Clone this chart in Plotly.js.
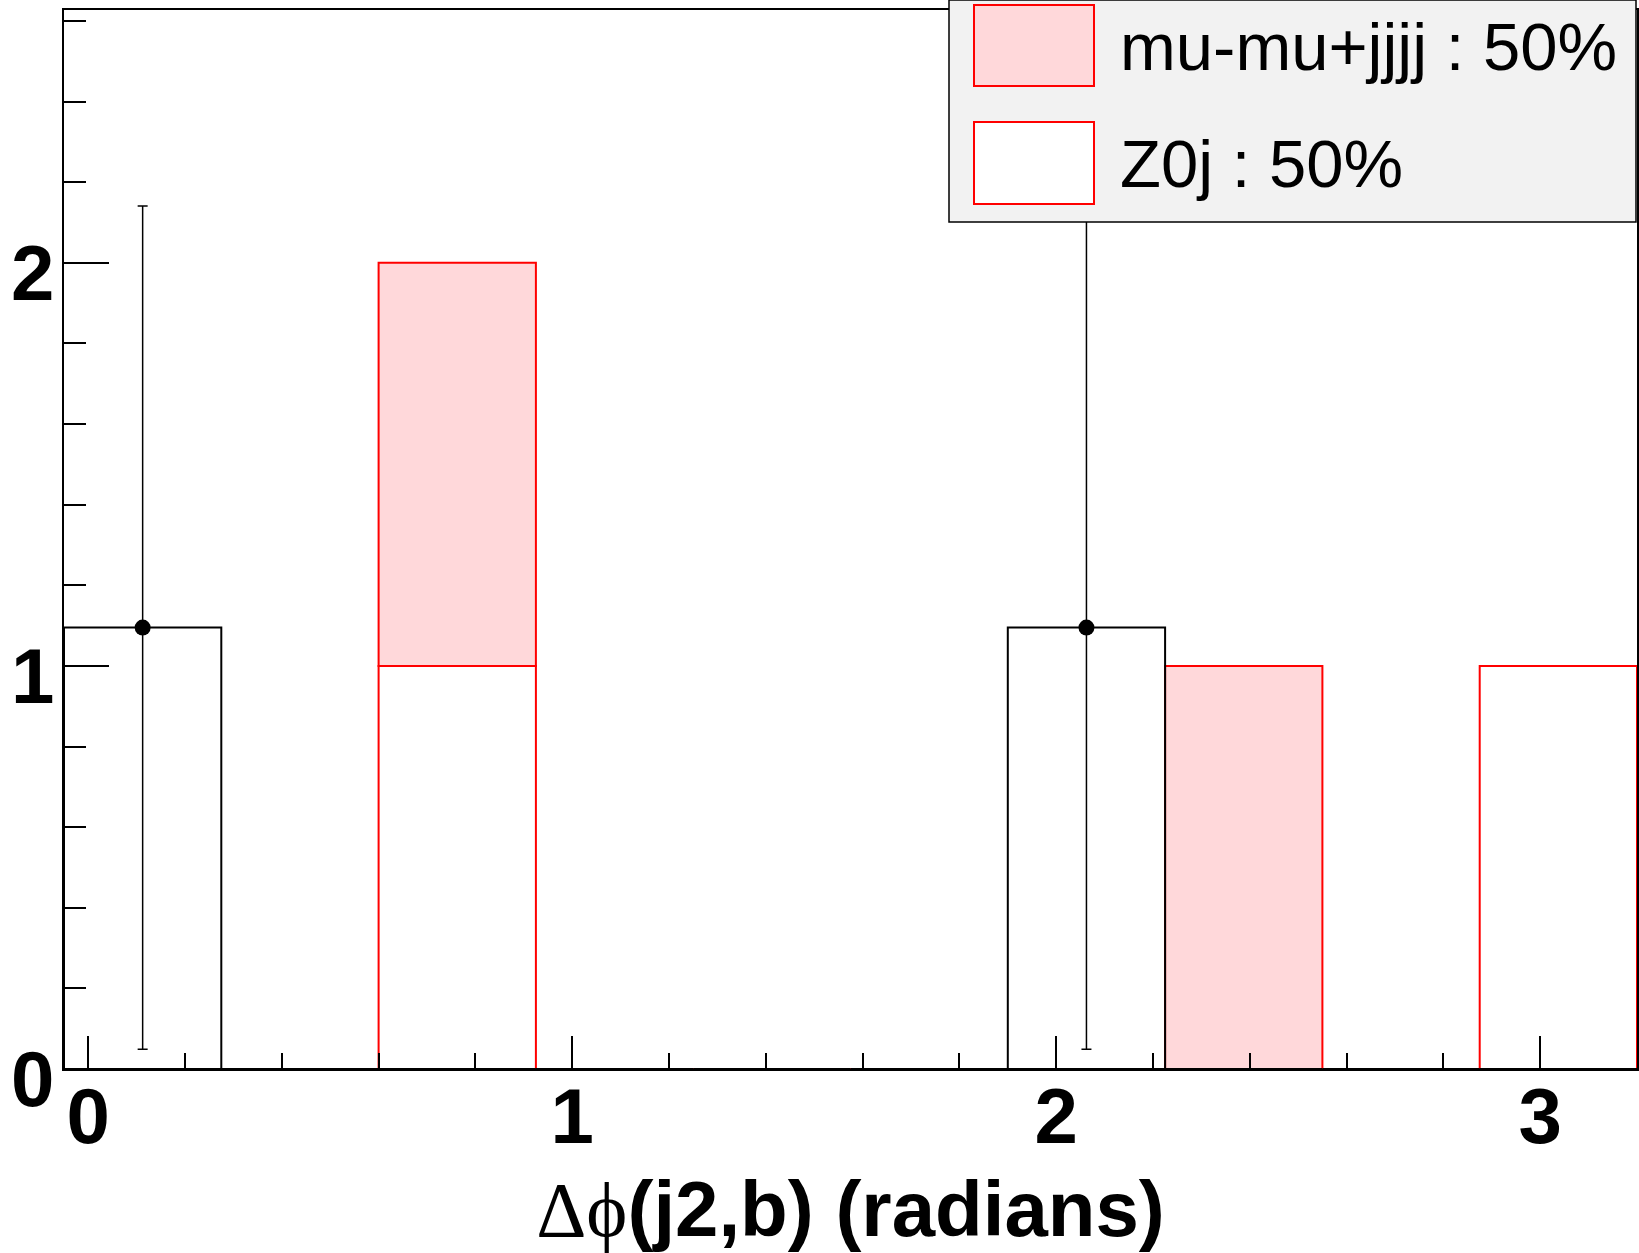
<!DOCTYPE html>
<html><head><meta charset="utf-8">
<script src="https://cdn.plot.ly/plotly-3.0.1.min.js"></script>
<style>body{margin:0;background:#fff}</style>
</head><body><div id="chart" style="width:1639px;height:1253px"></div>
<script>
// ---- data ----
const binCenters = [0.1125, 0.4375, 0.7625, 1.0875, 1.4125, 1.7375, 2.0625, 2.3875, 2.7125, 3.0375];
const binWidth = 0.325;
const z0jCounts  = [0, 0, 1, 0, 0, 0, 0, 0, 0, 1];
const mumuCounts = [0, 0, 1, 0, 0, 0, 0, 1, 0, 0];
const dataCounts = [1.095, 0, 0, 0, 0, 0, 1.095, 0, 0, 0];
const dataErrors = [1.046, 0, 0, 0, 0, 0, 1.046, 0, 0, 0];
const seriesNames = ['mu-mu+jjjj : 50%', 'Z0j : 50%'];
const xTickVals = [0, 1, 2, 3];
const yTickVals = [0, 1, 2];
const xTitle = '<span style="font-family:\'Liberation Serif\';font-weight:normal">\u0394\u03D5</span>(j2,b) (radians)';

// ---- layout geometry ----
const FW = 1639, FH = 1253;
const L = 64, R = 2, T = 10, B = 184;
const PW = FW - L - R, PH = FH - T - B;
const px = v => (v - L) / PW;
const py = v => (FH - B - v) / PH;
const pink = '#ffd8da';

const widths = binCenters.map(() => binWidth);
const pointY = dataCounts.map(v => v > 0 ? v : null);
const pointErr = dataErrors.map((e, i) => dataCounts[i] > 0 ? e : null);

const traces = [
  {type: 'bar', x: binCenters, y: z0jCounts, width: widths, name: seriesNames[1],
   marker: {color: '#ffffff', line: {color: '#ff0000', width: 2}}, hoverinfo: 'skip'},
  {type: 'bar', x: binCenters, y: mumuCounts, base: z0jCounts, width: widths, name: seriesNames[0],
   marker: {color: pink, line: {color: '#ff0000', width: 2}}, hoverinfo: 'skip'},
  {type: 'bar', x: binCenters, y: dataCounts, width: widths, name: 'data',
   marker: {color: 'rgba(0,0,0,0)', line: {color: '#000000', width: 2}}, hoverinfo: 'skip'},
  {type: 'scatter', mode: 'markers', x: binCenters, y: pointY, name: 'data points',
   marker: {color: '#000', size: 16},
   error_y: {type: 'data', array: pointErr, visible: true, color: '#000', thickness: 1.5, width: 5}}
];

const tickFont = {family: 'Liberation Sans, Arial, sans-serif', size: 78, color: '#000', weight: 'bold'};

const shapes = [
  {type: 'rect', xref: 'paper', yref: 'paper', x0: px(949), x1: px(1636), y0: py(222), y1: py(0),
   fillcolor: '#f2f2f2', line: {color: '#000', width: 1.5}, layer: 'above'},
  {type: 'rect', xref: 'paper', yref: 'paper', x0: px(974), x1: px(1094), y0: py(86), y1: py(5),
   fillcolor: pink, line: {color: '#ff0000', width: 2}, layer: 'above'},
  {type: 'rect', xref: 'paper', yref: 'paper', x0: px(974), x1: px(1094), y0: py(204), y1: py(122),
   fillcolor: '#ffffff', line: {color: '#ff0000', width: 2}, layer: 'above'}
];
const legFont = {family: 'Liberation Sans, Arial, sans-serif', size: 67, color: '#000'};
const annotations = [
  {xref: 'paper', yref: 'paper', x: px(1118), y: py(46), xanchor: 'left', yanchor: 'middle',
   text: seriesNames[0], showarrow: false, font: legFont},
  {xref: 'paper', yref: 'paper', x: px(1118), y: py(163), xanchor: 'left', yanchor: 'middle',
   text: seriesNames[1], showarrow: false, font: legFont}
];

const layout = {
  width: FW, height: FH,
  margin: {l: L, r: R, t: T, b: B, pad: 0},
  paper_bgcolor: '#fff', plot_bgcolor: '#fff',
  barmode: 'overlay', bargap: 0,
  showlegend: false,
  xaxis: {
    range: [-0.05, 3.2], tickvals: xTickVals, ticktext: xTickVals.map(String),
    ticks: 'inside', ticklen: 33, tickwidth: 2, tickcolor: '#000',
    minor: {dtick: 0.2, tick0: 0, ticks: 'inside', ticklen: 16, tickwidth: 2, tickcolor: '#000', showgrid: false},
    showline: true, linecolor: '#000', linewidth: 2, mirror: true,
    showgrid: false, zeroline: false, tickfont: tickFont, ticklabelstandoff: -22,
    title: {text: xTitle, font: {family: 'Liberation Sans, Arial, sans-serif', size: 78, color: '#000', weight: 'bold'}, standoff: 32}
  },
  yaxis: {
    range: [0, 2.627], tickvals: yTickVals, ticktext: yTickVals.map(String),
    ticks: 'inside', ticklen: 45, tickwidth: 2, tickcolor: '#000',
    minor: {dtick: 0.2, tick0: 0, ticks: 'inside', ticklen: 22, tickwidth: 2, tickcolor: '#000', showgrid: false},
    showline: true, linecolor: '#000', linewidth: 2, mirror: true,
    showgrid: false, zeroline: false, tickfont: tickFont, ticklabelstandoff: -8, ticklabelshift: 10
  },
  shapes: shapes,
  annotations: annotations
};

Plotly.newPlot('chart', traces, layout, {displayModeBar: false, staticPlot: true});
</script>
</body></html>
